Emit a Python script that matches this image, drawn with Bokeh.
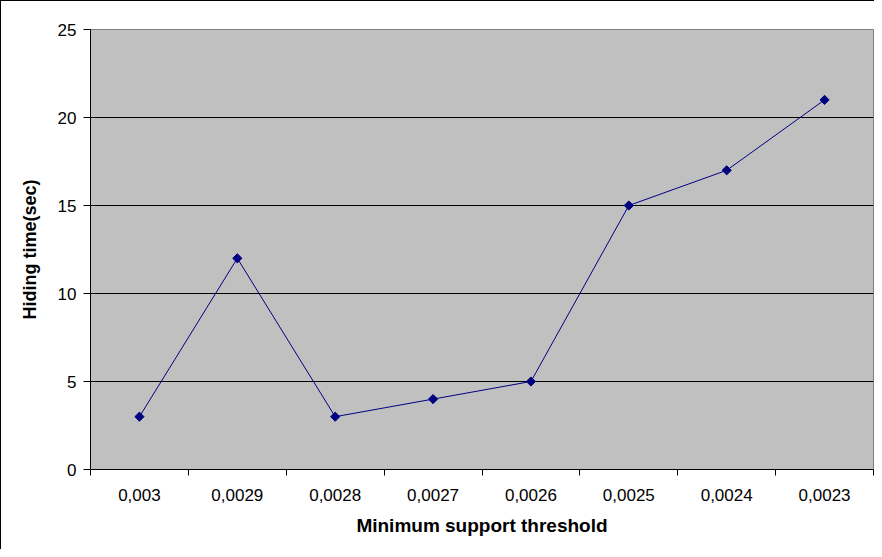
import math
from bokeh.plotting import figure
from bokeh.models import Range1d, FixedTicker, ColumnDataSource
from bokeh.embed import file_html
from bokeh.resources import INLINE

thresholds = ["0,003", "0,0029", "0,0028", "0,0027", "0,0026", "0,0025", "0,0024", "0,0023"]
hiding_time = [3, 12, 3, 4, 5, 15, 17, 21]
y_ticks = [0, 5, 10, 15, 20, 25]

xpos = [i + 0.5 for i in range(len(thresholds))]
src = ColumnDataSource(dict(x=xpos, y=hiding_time))

p = figure(width=874, height=549, output_backend="svg", toolbar_location=None,
           x_range=Range1d(0, len(thresholds)), y_range=Range1d(0, 25),
           min_border_left=89, min_border_right=2, min_border_top=28, min_border_bottom=81)
p.styles = {"border-left": "1px solid black", "border-top": "1px solid black"}

p.border_fill_color = "white"
p.background_fill_color = "#C0C0C0"
p.outline_line_color = "#808080"
p.outline_line_width = 1

p.line("x", "y", source=src, line_color="#000080", line_width=1)
p.scatter("x", "y", source=src, marker="square", angle=math.pi / 4, size=6.5,
          fill_color="#000080", line_color="#000080")

# x axis
p.xaxis.ticker = FixedTicker(ticks=xpos, minor_ticks=list(range(len(thresholds) + 1)))
p.xaxis.major_label_overrides = {x: t for x, t in zip(xpos, thresholds)}
p.xaxis.major_tick_line_color = None
p.xaxis.major_tick_out = 0
p.xaxis.major_tick_in = 0
p.xaxis.minor_tick_line_color = "black"
p.xaxis.minor_tick_out = 6
p.xaxis.minor_tick_in = 0
p.xaxis.major_label_standoff = 13
p.xaxis.axis_label = "Minimum support threshold"
p.xaxis.axis_label_standoff = 11
p.xaxis.axis_label_text_font_size = "19px"

# y axis
p.yaxis.ticker = FixedTicker(ticks=y_ticks)
p.yaxis.major_tick_out = 7
p.yaxis.major_tick_in = 0
p.yaxis.minor_tick_line_color = None
p.yaxis.major_label_standoff = 7
p.yaxis.axis_label = "Hiding time(sec)"
p.yaxis.axis_label_standoff = 15
p.yaxis.axis_label_text_font_size = "18px"

for ax in (p.xaxis, p.yaxis):
    ax.axis_line_color = "black"
    ax.axis_line_width = 1
    ax.major_tick_line_width = 1
    ax.major_label_text_font = "Liberation Sans"
    ax.major_label_text_font_size = "17px"
    ax.major_label_text_color = "black"
    ax.axis_label_text_font = "Liberation Sans"
    ax.axis_label_text_font_style = "bold"
    ax.axis_label_text_color = "black"

p.xgrid.grid_line_color = None
p.ygrid.ticker = FixedTicker(ticks=[5, 10, 15, 20])
p.ygrid.grid_line_color = "black"
p.ygrid.grid_line_width = 1

open("out.html", "w").write(file_html(p, INLINE))
